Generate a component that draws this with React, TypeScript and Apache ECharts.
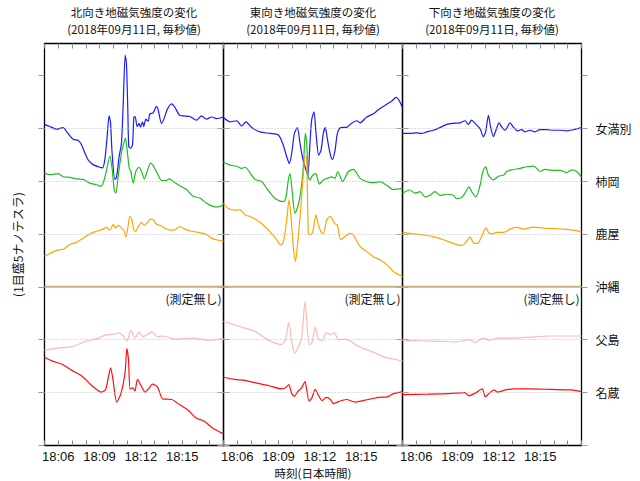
import React, { useEffect, useRef } from "react";
import * as echarts from "echarts";

// time in minutes after 18:00, value in axis units (1 unit = 5 nT), station baselines 6..1
const STATIONS = ["女満別", "柿岡", "鹿屋", "沖縄", "父島", "名蔵"];
const BASELINES = [6, 5, 4, 3, 2, 1];
const COLORS = ["#1a1aff", "#22bb22", "#ffa500", "#c8b27a", "#ffb8b8", "#ff1010"];
const PANEL_TITLES = ["北向き地磁気強度の変化", "東向き地磁気強度の変化", "下向き地磁気強度の変化"];
const SUBTITLE = "(2018年09月11日, 毎秒値)";
const X_LABEL_MINUTES = [6, 9, 12, 15];
const X_NAME = "時刻(日本時間)";
const Y_NAME = "(1目盛5ナノテスラ)";
const NO_DATA = "(測定無し)";

// ---- North component ----
const nMemanbetsu = [[5.0,6.07],[5.38,6.03],[5.87,5.98],[6.35,6.01],[6.59,5.94],[7.08,5.79],[7.44,5.77],[7.68,5.69],[7.93,5.53],[8.17,5.40],[8.53,5.31],[9.02,5.26],[9.21,5.25],[9.38,5.40],[9.55,5.84],[9.69,6.23],[9.79,6.12],[9.91,5.53],[10.11,5.03],[10.23,5.07],[10.42,5.46],[10.59,5.72],[10.71,6.41],[10.86,7.38],[10.95,7.23],[11.05,6.35],[11.12,5.65],[11.24,5.62],[11.39,5.68],[11.49,6.21],[11.58,6.22],[11.73,6.03],[11.87,6.09],[11.97,6.02],[12.12,6.12],[12.21,6.03],[12.36,6.17],[12.53,6.13],[12.65,6.27],[12.89,6.29],[13.13,6.41],[13.25,6.35],[13.50,6.09],[13.67,6.17],[13.91,6.35],[14.22,6.46],[14.46,6.40],[14.78,6.25],[15.07,6.23],[15.55,6.22],[16.04,6.15],[16.40,6.23],[16.76,6.17],[17.13,6.21],[17.49,6.18],[18.0,6.21]];
const nKakioka = [[5.0,5.15],[5.39,5.12],[5.99,5.14],[6.36,5.08],[6.84,5.07],[7.32,5.04],[7.81,5.03],[8.29,4.96],[8.78,4.93],[9.07,4.90],[9.26,4.96],[9.46,5.15],[9.75,5.47],[9.92,5.21],[10.06,4.84],[10.18,4.77],[10.35,5.09],[10.59,5.53],[10.76,5.72],[10.88,5.81],[11.0,5.59],[11.15,5.25],[11.27,5.18],[11.44,4.96],[11.63,5.18],[11.85,5.26],[12.05,5.18],[12.24,5.04],[12.46,5.18],[12.70,5.34],[12.89,5.29],[13.18,5.15],[13.50,5.01],[13.81,5.01],[14.06,5.04],[14.35,4.99],[14.83,4.91],[15.31,4.84],[15.80,4.71],[16.28,4.68],[16.77,4.58],[17.25,4.52],[17.62,4.51],[18.0,4.55]];
const nKanoya = [[5.0,3.58],[5.39,3.63],[5.87,3.69],[6.36,3.71],[6.84,3.80],[7.32,3.84],[7.81,3.92],[8.29,4.0],[8.78,4.05],[9.26,4.09],[9.50,4.13],[9.75,4.07],[9.99,4.18],[10.16,4.11],[10.35,4.16],[10.59,4.11],[10.79,4.05],[10.91,3.94],[11.03,4.08],[11.20,4.33],[11.34,4.27],[11.49,4.08],[11.63,4.05],[11.80,4.13],[12.05,4.22],[12.24,4.16],[12.46,4.21],[12.70,4.28],[12.89,4.27],[13.14,4.18],[13.43,4.16],[13.74,4.11],[14.10,4.07],[14.47,4.08],[14.83,4.14],[15.19,4.09],[15.68,4.05],[16.16,4.03],[16.77,3.99],[17.13,3.92],[17.49,3.89],[18.0,3.86]];
const nChichijima = [[5.0,1.80],[5.95,1.84],[6.98,1.87],[8.02,1.97],[8.91,2.03],[9.44,2.09],[9.94,2.10],[10.39,2.13],[10.68,2.08],[10.98,1.98],[11.28,2.18],[11.57,2.03],[11.87,2.14],[12.16,2.06],[12.82,2.15],[13.20,2.06],[13.64,2.07],[14.53,2.01],[15.72,2.03],[16.90,1.99],[18.0,2.02]];
const nNagura = [[5.0,1.67],[5.65,1.59],[6.24,1.54],[6.98,1.42],[7.72,1.31],[8.46,1.13],[9.14,1.01],[9.44,1.06],[9.65,1.31],[9.80,1.47],[9.97,1.25],[10.24,0.82],[10.48,0.93],[10.68,1.12],[10.86,1.40],[10.98,1.83],[11.10,1.62],[11.22,1.07],[11.42,1.09],[11.57,1.03],[11.75,1.25],[12.02,1.13],[12.31,1.01],[12.61,1.09],[12.82,1.16],[13.20,1.11],[13.59,0.88],[14.24,0.87],[14.83,0.77],[15.42,0.67],[16.01,0.52],[16.60,0.46],[17.20,0.33],[18.0,0.22]];

// ---- East component ----
const eMemanbetsu = [[5.0,6.20],[5.47,6.12],[5.96,6.14],[6.32,6.04],[6.63,6.12],[7.05,6.01],[7.65,5.93],[8.38,5.90],[8.98,5.87],[9.30,5.71],[9.59,5.46],[9.78,5.33],[9.95,5.52],[10.15,5.90],[10.36,6.01],[10.56,5.71],[10.75,5.43],[10.92,5.27],[11.12,5.11],[11.28,5.71],[11.40,6.15],[11.57,6.31],[11.72,5.90],[11.91,5.49],[12.08,5.58],[12.25,5.90],[12.40,6.01],[12.54,5.80],[12.74,5.52],[12.91,5.41],[13.10,5.58],[13.27,5.90],[13.51,6.01],[13.97,6.02],[14.19,6.07],[14.67,6.14],[14.92,6.10],[15.40,6.21],[15.88,6.27],[16.37,6.37],[16.85,6.45],[17.20,6.51],[17.55,6.58],[18.0,6.39]];
const eKakioka = [[5.0,5.36],[5.47,5.30],[5.96,5.28],[6.32,5.24],[6.56,5.26],[6.92,5.16],[7.29,5.03],[7.77,4.99],[8.14,4.86],[8.50,4.74],[8.86,4.65],[9.35,4.61],[9.54,4.70],[9.71,5.02],[9.83,5.14],[10.0,4.77],[10.19,4.39],[10.39,4.51],[10.61,4.80],[10.80,5.27],[10.94,5.90],[11.04,5.71],[11.16,5.08],[11.28,5.02],[11.45,5.10],[11.70,5.14],[11.96,4.94],[12.25,5.02],[12.54,5.05],[12.86,5.08],[13.09,5.05],[13.29,5.18],[13.65,4.99],[14.07,5.18],[14.43,5.22],[14.92,5.05],[15.40,4.99],[15.88,4.97],[16.37,4.99],[16.85,4.92],[17.34,4.84],[18.0,4.86]];
const eKanoya = [[5.0,4.58],[5.35,4.48],[5.84,4.45],[6.20,4.46],[6.56,4.36],[6.92,4.33],[7.29,4.28],[7.89,4.17],[8.38,4.04],[8.86,3.89],[9.15,3.79],[9.35,3.85],[9.59,4.26],[9.76,4.65],[9.88,4.39],[10.07,3.76],[10.22,3.48],[10.36,3.76],[10.56,4.33],[10.75,4.96],[10.94,5.47],[11.04,5.43],[11.16,4.01],[11.28,3.98],[11.48,4.04],[11.72,4.36],[11.89,4.17],[12.08,4.04],[12.25,4.01],[12.49,4.26],[12.74,4.33],[13.10,4.19],[13.27,4.17],[13.51,3.89],[13.82,3.95],[14.19,4.01],[14.43,3.98],[14.92,3.76],[15.40,3.67],[15.88,3.57],[16.37,3.51],[16.85,3.42],[17.34,3.29],[18.0,3.19]];
const eChichijima = [[5.0,2.35],[5.80,2.28],[6.54,2.22],[7.28,2.16],[8.02,2.03],[8.61,1.95],[9.20,1.91],[9.50,2.0],[9.74,2.32],[9.94,2.0],[10.15,1.75],[10.39,1.84],[10.68,2.06],[10.92,2.72],[11.04,2.38],[11.22,1.91],[11.42,1.94],[11.66,2.24],[11.87,2.03],[12.16,1.98],[12.46,2.13],[12.76,2.10],[13.05,2.13],[13.35,2.0],[13.79,2.01],[14.24,1.97],[14.83,1.87],[15.42,1.81],[16.01,1.75],[16.60,1.68],[17.20,1.64],[18.0,1.60]];
const eNagura = [[5.0,1.29],[5.80,1.25],[6.54,1.23],[7.43,1.18],[8.32,1.13],[9.20,1.07],[9.50,1.09],[9.74,1.15],[9.94,0.99],[10.15,0.93],[10.39,1.02],[10.68,1.09],[10.92,1.21],[11.04,1.06],[11.22,0.84],[11.42,0.90],[11.66,1.06],[11.87,0.96],[12.16,0.85],[12.46,0.91],[12.76,0.87],[12.99,0.79],[13.35,0.83],[13.94,0.87],[14.53,0.82],[15.12,0.85],[15.72,0.88],[16.31,0.91],[16.90,0.92],[17.34,0.98],[18.0,1.02]];

// ---- Downward component ----
const dMemanbetsu = [[5.0,5.90],[5.54,5.90],[6.03,5.91],[6.39,5.90],[6.76,5.93],[7.24,5.96],[7.72,6.01],[8.21,6.07],[8.69,6.09],[9.18,6.10],[9.54,6.14],[9.78,6.07],[10.02,6.15],[10.27,6.09],[10.63,5.99],[10.87,5.84],[11.04,5.93],[11.24,6.24],[11.40,6.02],[11.60,5.84],[11.79,5.96],[12.01,6.10],[12.21,6.02],[12.45,5.96],[12.81,6.10],[13.05,6.02],[13.34,5.95],[13.66,5.97],[13.90,5.93],[14.26,5.96],[14.62,5.93],[14.98,5.97],[15.47,5.97],[15.96,5.96],[16.44,5.96],[16.92,5.95],[17.41,5.97],[18.0,6.01]];
const dKakioka = [[5.0,4.77],[5.54,4.83],[5.91,4.77],[6.27,4.80],[6.63,4.70],[7.0,4.73],[7.36,4.80],[7.72,4.73],[8.21,4.75],[8.69,4.73],[8.93,4.67],[9.30,4.69],[9.54,4.77],[9.83,4.89],[10.02,4.80],[10.34,4.70],[10.63,4.92],[10.87,5.21],[11.04,5.27],[11.24,5.11],[11.60,5.02],[11.96,5.09],[12.33,5.11],[12.57,5.18],[12.93,5.21],[13.54,5.24],[14.02,5.27],[14.50,5.28],[14.75,5.24],[14.98,5.18],[15.35,5.22],[15.96,5.20],[16.44,5.20],[16.92,5.16],[17.29,5.21],[17.65,5.18],[18.0,5.07]];
const dKanoya = [[5.0,4.03],[5.79,4.0],[6.51,3.98],[7.24,3.95],[7.97,3.89],[8.69,3.82],[9.30,3.78],[9.54,3.82],[9.90,3.94],[10.20,3.82],[10.44,3.82],[10.75,3.95],[11.07,4.12],[11.24,4.03],[11.48,4.0],[11.84,4.03],[12.33,4.03],[12.81,4.09],[13.29,4.13],[13.78,4.09],[14.50,4.13],[15.23,4.11],[15.96,4.10],[16.68,4.09],[17.41,4.07],[18.0,4.04]];
const dChichijima = [[5.0,1.99],[6.27,1.98],[7.75,1.97],[8.94,1.96],[9.83,2.0],[10.27,1.95],[10.86,2.03],[11.31,1.99],[11.90,2.03],[13.08,2.03],[14.27,2.05],[15.75,2.07],[17.23,2.07],[18.0,2.07]];
const dNagura = [[5.0,0.96],[6.86,0.97],[8.35,0.98],[9.53,1.0],[9.83,0.94],[10.27,0.99],[10.80,1.07],[11.01,0.92],[11.31,0.99],[11.66,1.05],[11.90,1.01],[12.49,1.05],[13.08,1.07],[14.27,1.07],[15.75,1.06],[17.23,1.05],[18.0,1.02]];

// Okinawa: no measurement -> flat baseline
const okinawa = [[5, 3], [18, 3]];

const PANELS = [
  [nMemanbetsu, nKakioka, nKanoya, okinawa, nChichijima, nNagura],
  [eMemanbetsu, eKakioka, eKanoya, okinawa, eChichijima, eNagura],
  [dMemanbetsu, dKakioka, dKanoya, okinawa, dChichijima, dNagura],
];

const FONT = "'Noto Sans CJK JP', 'Noto Sans', sans-serif";
const LATIN_FONT = "'Liberation Sans', 'DejaVu Sans', sans-serif";
const GRID_LEFTS = [44.5, 223.5, 402.5];
const GRID_W = 179;
const GRID_TOP = 43.5;
const GRID_H = 402;
const Y_MAX = 7.6;

export default function App() {
  const ref = useRef<HTMLDivElement>(null);
  useEffect(() => {
    if (!ref.current) return;
    const chart = echarts.init(ref.current, null, { renderer: "svg" });
    const frame = { show: true, onZero: false, lineStyle: { color: "#000", width: 1.3 } };
    const grids = GRID_LEFTS.map((l) => ({
      left: l, top: GRID_TOP, width: GRID_W, height: GRID_H,
      containLabel: false, outerBoundsMode: "none",
    }));
    const xAxis: any[] = [];
    const yAxis: any[] = [];
    GRID_LEFTS.forEach((_, i) => {
      const baseX = {
        gridIndex: i, type: "value", min: 5, max: 18, interval: 1,
        axisLine: frame,
        axisTick: { show: true, inside: true, length: 5, lineStyle: { color: "#888" } },
        splitLine: { show: false },
      };
      xAxis.push({
        ...baseX, position: "bottom",
        axisLabel: {
          customValues: X_LABEL_MINUTES, fontSize: 13, color: "#111", fontFamily: LATIN_FONT, margin: 4,
          formatter: (v: number) => (X_LABEL_MINUTES.includes(Math.round(v)) ? "18:" + String(Math.round(v)).padStart(2, "0") : ""),
        },
      });
      xAxis.push({ ...baseX, position: "top", axisLabel: { show: false } });
      const baseY = {
        gridIndex: i, type: "value", min: 0, max: Y_MAX, interval: 1,
        axisLine: frame,
        axisTick: { show: true, inside: false, length: 6, customValues: [0, 1, 2, 3, 4, 5, 6, 7], lineStyle: { color: "#999" } },
        splitLine: { show: false },
      };
      yAxis.push({
        ...baseY, position: "left", axisLabel: { show: false },
        name: i === 0 ? Y_NAME : "", nameLocation: "middle", nameGap: 21,
        nameTextStyle: { fontSize: 12, color: "#111", fontFamily: FONT },
      });
      yAxis.push({
        ...baseY, position: "right",
        axisLabel: i === 2
          ? {
              show: true, customValues: BASELINES, margin: 14, fontSize: 12, color: "#111", fontFamily: FONT,
              formatter: (v: number) => { const k = BASELINES.indexOf(Math.round(v)); return k >= 0 && Math.abs(v - Math.round(v)) < 1e-6 ? STATIONS[k] : ""; },
            }
          : { show: false },
      });
    });

    const series: any[] = [];
    PANELS.forEach((panel, i) => {
      panel.forEach((data, s) => {
        const isOki = s === 3;
        series.push({
          type: "line", name: STATIONS[s], xAxisIndex: i * 2, yAxisIndex: i * 2,
          data, showSymbol: false, symbol: "none", smooth: isOki ? false : 0.25,
          lineStyle: { color: COLORS[s], width: isOki ? 2 : 1.2 },
          z: isOki ? 2 : 3,
          markLine: isOki
            ? {
                silent: true, symbol: "none", label: { show: false },
                lineStyle: { type: [1, 2], color: "#bdbdbd", width: 1 },
                data: [1, 2, 4, 5, 6].map((v) => ({ yAxis: v })),
              }
            : undefined,
        });
      });
    });

    const graphic: any[] = [];
    GRID_LEFTS.forEach((l, i) => {
      const cx = l + GRID_W / 2;
      graphic.push({
        type: "text", x: cx, y: 12.3,
        style: { text: PANEL_TITLES[i], font: `11.5px ${FONT}`, fill: "#111", textAlign: "center", textVerticalAlign: "middle" },
      });
      graphic.push({
        type: "text", x: cx, y: 29.2,
        style: { text: SUBTITLE, font: `11.5px ${FONT}`, fill: "#111", textAlign: "center", textVerticalAlign: "middle" },
      });
      graphic.push({ type: "text", x: l + GRID_W - 2, y: 298, style: { text: NO_DATA, font: `12px ${FONT}`, fill: "#111", textAlign: "right", textVerticalAlign: "middle" } });
    });
    graphic.push({
      type: "text", x: GRID_LEFTS[1] + GRID_W / 2, y: 472.6,
      style: { text: X_NAME, font: `11.5px ${FONT}`, fill: "#111", textAlign: "center", textVerticalAlign: "middle" },
    });

    chart.setOption({
      animation: false,
      backgroundColor: "#fff",
      textStyle: { fontFamily: FONT },
      grid: grids,
      xAxis, yAxis, series, graphic,
    });
    return () => chart.dispose();
  }, []);
  return <div ref={ref} style={{ position: "fixed", left: 0, top: 0, width: 640, height: 481 }} />;
}
